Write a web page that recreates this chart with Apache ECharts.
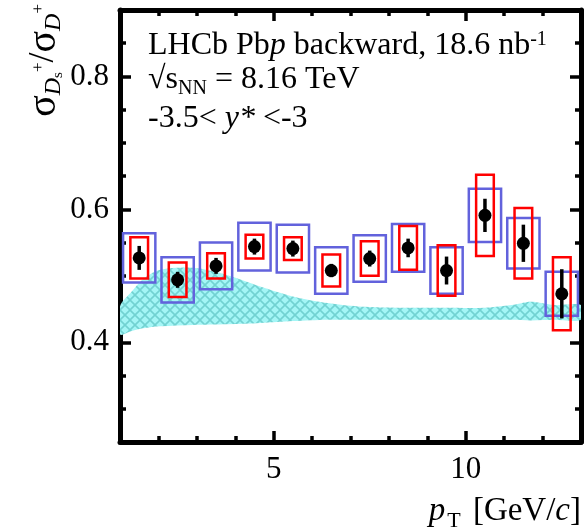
<!DOCTYPE html>
<html>
<head>
<meta charset="utf-8">
<script src="https://cdn.jsdelivr.net/npm/echarts@6/dist/echarts.min.js"></script>
<style>
  html, body { margin: 0; padding: 0; background: #fff; }
  #main { width: 584px; height: 532px; }
</style>
</head>
<body>
<div id="main"></div>
<script>
// pT bin centres and measured ratio
var ptCenters = [1.5, 2.5, 3.5, 4.5, 5.5, 6.5, 7.5, 8.5, 9.5, 10.5, 11.5, 12.5];
var ratio = [0.527, 0.494, 0.515, 0.544, 0.541, 0.508, 0.526, 0.542, 0.508, 0.591, 0.549, 0.473];
var statErr = [0.018, 0.012, 0.012, 0.012, 0.012, 0.010, 0.012, 0.014, 0.021, 0.025, 0.028, 0.037];
var sysRed = [0.031, 0.026, 0.019, 0.018, 0.017, 0.024, 0.026, 0.033, 0.038, 0.061, 0.053, 0.055];
var sysBlue = [0.037, 0.034, 0.035, 0.036, 0.036, 0.035, 0.035, 0.036, 0.035, 0.040, 0.038, 0.033];

// theory band (hatched)
var bandX = [1.0, 1.3, 1.6, 2.05, 2.9, 3.8, 4.65, 5.5, 6.4, 7.2, 8.5, 9.4, 10.5, 11.2, 11.7, 12.3, 13.0];
var bandHigh = [0.454, 0.476, 0.495, 0.509, 0.512, 0.501, 0.484, 0.469, 0.459, 0.454, 0.452, 0.452, 0.452, 0.456, 0.461, 0.456, 0.456];
var bandLow = [0.412, 0.417, 0.421, 0.424, 0.426, 0.427, 0.429, 0.432, 0.434, 0.434, 0.434, 0.434, 0.434, 0.434, 0.433, 0.434, 0.434];

// axis ticks
var xMajor = [5, 10];
var xMinor = [2, 3, 4, 6, 7, 8, 9, 11, 12];
var yMajor = [0.4, 0.6, 0.8];
var yMinor = [0.3, 0.35, 0.45, 0.5, 0.55, 0.65, 0.7, 0.75, 0.85];

var serif = 'Liberation Serif';

// cross hatch for the band
var pat = document.createElement('canvas');
pat.width = 10; pat.height = 10;
var pc = pat.getContext('2d');
pc.fillStyle = '#a4f6f6';
pc.fillRect(0, 0, 10, 10);
pc.strokeStyle = '#72d2d2';
pc.lineWidth = 1.6;
pc.beginPath();
pc.moveTo(0, 0); pc.lineTo(10, 10);
pc.moveTo(10, 0); pc.lineTo(0, 10);
pc.stroke();

var myChart = echarts.init(document.getElementById('main'), null, { renderer: 'canvas' });

function xAx(pos, ticks, len, major) {
  return {
    type: 'value', min: 1, max: 13, position: pos,
    axisLine: { show: major, onZero: false, lineStyle: { color: '#000', width: 5 } },
    axisTick: { show: true, inside: true, length: len, customValues: ticks, lineStyle: { color: '#000', width: 3.5 } },
    axisLabel: { show: major && pos === 'bottom', customValues: ticks, color: '#000', fontFamily: serif, fontSize: 31, margin: 12 },
    splitLine: { show: false }
  };
}
function yAx(pos, ticks, len, major) {
  return {
    type: 'value', min: 0.25, max: 0.9, position: pos,
    axisLine: { show: major, onZero: false, lineStyle: { color: '#000', width: 5 } },
    axisTick: { show: true, inside: true, length: len, customValues: ticks, lineStyle: { color: '#000', width: 3.5 } },
    axisLabel: { show: major && pos === 'left', customValues: ticks, color: '#000', fontFamily: serif, fontSize: 31, margin: 11 },
    splitLine: { show: false }
  };
}

var xBottom = xAx('bottom', xMajor, 11, true);
xBottom.name = '{p|p}{t|T} [GeV/{c|c}]';
xBottom.nameLocation = 'end';
xBottom.nameGap = 0;
xBottom.nameTextStyle = {
  align: 'right', verticalAlign: 'top', padding: [48, 0, 0, 0],
  color: '#000', fontFamily: serif, fontSize: 33,
  rich: {
    p: { fontFamily: serif, fontStyle: 'italic', fontSize: 33, color: '#000', lineHeight: 42 },
    t: { fontFamily: serif, fontSize: 22, color: '#000', verticalAlign: 'bottom', lineHeight: 18, padding: [0, 4, 0, 2] },
    c: { fontFamily: serif, fontStyle: 'italic', fontSize: 33, color: '#000', lineHeight: 42 }
  }
};

var option = {
  animation: false,
  backgroundColor: '#fff',
  grid: { left: 120, right: 3, top: 10, bottom: 87 },
  xAxis: [xBottom, xAx('bottom', xMinor, 6, false), xAx('top', xMajor, 11, true), xAx('top', xMinor, 6, false)],
  yAxis: [yAx('left', yMajor, 11, true), yAx('left', yMinor, 6, false), yAx('right', yMajor, 11, true), yAx('right', yMinor, 6, false)],
  graphic: [
    {
      type: 'text', left: 148, top: 30,
      style: {
        text: 'LHCb Pb{i|p} backward, 18.6 nb{sup|-1}',
        font: '32px "Liberation Serif"', fill: '#000',
        rich: {
          i: { fontFamily: serif, fontStyle: 'italic', fontSize: 32 },
          sup: { fontFamily: serif, fontSize: 20, verticalAlign: 'top', lineHeight: 14 }
        }
      }
    },
    {
      type: 'text', left: 148, top: 64,
      style: {
        text: '√{s|s}{sub|NN} = 8.16 TeV',
        font: '32px "Liberation Serif"', fill: '#000',
        rich: {
          s: { fontFamily: serif, fontSize: 32, lineHeight: 38 },
          sub: { fontFamily: serif, fontSize: 20, verticalAlign: 'bottom', lineHeight: 14 }
        }
      }
    },
    {
      type: 'text', left: 148, top: 103,
      style: {
        text: '-3.5< {i|y*} <-3',
        font: '32px "Liberation Serif"', fill: '#000',
        rich: { i: { fontFamily: serif, fontStyle: 'italic', fontSize: 32 } }
      }
    },
    {
      type: 'text', x: 44, y: 4, rotation: Math.PI / 2,
      style: {
        text: '{s|σ}{d|D}{ss|s}{sp|+}{sl|/}{s|σ}{d|D}{sp|+}',
        align: 'right', verticalAlign: 'middle',
        font: '36px "Liberation Serif"', fill: '#000',
        rich: {
          s: { fontFamily: serif, fontSize: 40, lineHeight: 44 },
          sl: { fontFamily: serif, fontSize: 36, lineHeight: 44 },
          d: { fontFamily: serif, fontStyle: 'italic', fontSize: 24, verticalAlign: 'bottom', lineHeight: 24 },
          ss: { fontFamily: serif, fontSize: 15, verticalAlign: 'bottom', lineHeight: 10 },
          sp: { fontFamily: serif, fontSize: 17, verticalAlign: 'middle', padding: [0, 0, 10, 0] }
        }
      }
    }
  ],
  series: [
    {
      type: 'custom', name: 'band', xAxisIndex: 0, yAxisIndex: 0, z: 1, clip: true,
      data: bandX.map(function (x, i) { return [x, bandLow[i], bandHigh[i]]; }),
      encode: { x: 0, y: [1, 2] },
      renderItem: function (params, api) {
        if (params.dataIndex !== 0) return null;
        var pts = [];
        for (var i = 0; i < bandX.length; i++) pts.push(api.coord([bandX[i], bandHigh[i]]));
        for (var j = bandX.length - 1; j >= 0; j--) pts.push(api.coord([bandX[j], bandLow[j]]));
        return { type: 'polygon', shape: { points: pts, smooth: 0.3 }, style: { fill: { image: pat, repeat: 'repeat' }, stroke: null } };
      }
    },
    {
      type: 'custom', name: 'sysBlue', z: 2, clip: true,
      data: ptCenters.map(function (x, i) { return [x, ratio[i], sysBlue[i]]; }),
      encode: { x: 0, y: 1 },
      renderItem: function (params, api) {
        var x = api.value(0), y = api.value(1), e = api.value(2);
        var a = api.coord([x - 0.42, y + e]), b = api.coord([x + 0.42, y - e]);
        return { type: 'rect', shape: { x: a[0], y: a[1], width: b[0] - a[0], height: b[1] - a[1] },
          style: { fill: null, stroke: '#6262dc', lineWidth: 2.5 } };
      }
    },
    {
      type: 'custom', name: 'sysRed', z: 3, clip: true,
      data: ptCenters.map(function (x, i) { return [x, ratio[i], sysRed[i]]; }),
      encode: { x: 0, y: 1 },
      renderItem: function (params, api) {
        var x = api.value(0), y = api.value(1), e = api.value(2);
        var a = api.coord([x - 0.23, y + e]), b = api.coord([x + 0.23, y - e]);
        return { type: 'rect', shape: { x: a[0], y: a[1], width: b[0] - a[0], height: b[1] - a[1] },
          style: { fill: null, stroke: '#ff0000', lineWidth: 2.5 } };
      }
    },
    {
      type: 'custom', name: 'stat', z: 4, clip: true,
      data: ptCenters.map(function (x, i) { return [x, ratio[i], statErr[i]]; }),
      encode: { x: 0, y: 1 },
      renderItem: function (params, api) {
        var x = api.value(0), y = api.value(1), e = api.value(2);
        var a = api.coord([x, y + e]), b = api.coord([x, y - e]);
        return { type: 'line', shape: { x1: a[0], y1: a[1], x2: b[0], y2: b[1] },
          style: { stroke: '#000', lineWidth: 3.5 } };
      }
    },
    {
      type: 'scatter', name: 'ratio', z: 5,
      symbol: 'circle', symbolSize: 13,
      itemStyle: { color: '#000', opacity: 1 },
      data: ptCenters.map(function (x, i) { return [x, ratio[i]]; })
    }
  ]
};
myChart.setOption(option);
</script>
</body>
</html>
